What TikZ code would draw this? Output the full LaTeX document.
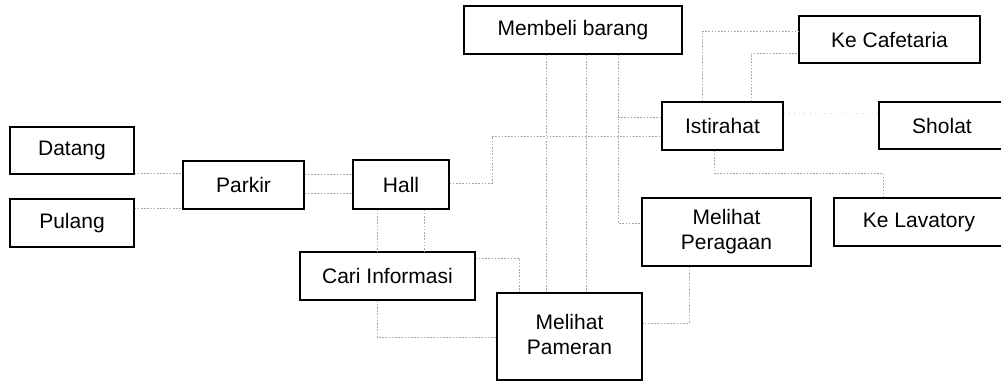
\documentclass[tikz,border=0pt]{standalone}
\usepackage{fontspec}
\setmainfont{Liberation Sans}
\begin{document}
\begin{tikzpicture}[x=1pt,y=-1pt,
  box/.style={draw=black,line width=1.3pt,inner sep=0pt,align=center,
    font=\fontsize{21}{25}\selectfont},
  conn/.style={draw=gray!70,line width=0.8pt,dash pattern=on 1.6pt off 1.6pt},
  faint/.style={draw=gray!25,line width=0.6pt,dash pattern=on 1.2pt off 4pt}]
\useasboundingbox (0,0) rectangle (1001,381);
\node[box,minimum width=124pt,minimum height=47pt] (datang) at (72,150.5) {Datang};
\node[box,minimum width=124pt,minimum height=48pt] (pulang) at (72,223) {Pulang};
\node[box,minimum width=121pt,minimum height=48pt] (parkir) at (243.5,185) {Parkir};
\node[box,minimum width=96pt,minimum height=49pt] (hall) at (401,184.5) {Hall};
\node[box,minimum width=218pt,minimum height=48pt] (membeli) at (573,30) {Membeli barang};
\node[box,minimum width=181pt,minimum height=47pt] (cafe) at (889.5,39.5) {Ke Cafetaria};
\node[box,minimum width=121pt,minimum height=48pt] (istirahat) at (722.5,126) {Istirahat};
\node[box,minimum width=132pt,minimum height=47pt] (sholat) at (945,125.5) {\hspace*{-6pt}Sholat};
\node[box,minimum width=169pt,minimum height=68pt] (peragaan) at (726.5,232) {Melihat\\Peragaan};
\node[box,minimum width=176pt,minimum height=48pt] (lavatory) at (922,222) {\hspace*{-6pt}Ke Lavatory};
\node[box,minimum width=175pt,minimum height=48pt] (cari) at (387.5,276) {Cari Informasi};
\node[box,minimum width=145pt,minimum height=87pt] (pameran) at (569.5,336.5)
  {\raisebox{6pt}{\begin{tabular}{@{}c@{}}Melihat\\Pameran\end{tabular}}};
% helper coordinates
\coordinate (y173) at (0,173);
\coordinate (y208) at (0,208);
\coordinate (y174) at (0,174);
\coordinate (y193) at (0,193);
\coordinate (y183) at (0,183);
\coordinate (y136) at (0,136);
\coordinate (y117) at (0,117);
\coordinate (y113) at (0,113);
\coordinate (y223) at (0,223);
\coordinate (y31) at (0,31);
\coordinate (y53) at (0,53);
\coordinate (y258) at (0,258);
\coordinate (y337) at (0,337);
\coordinate (y323) at (0,323);
\coordinate (x546) at (546,0);
\coordinate (x586) at (586,0);
\coordinate (x618) at (618,0);
\coordinate (x702) at (702,0);
\coordinate (x751) at (751,0);
\coordinate (x714) at (714,0);
\coordinate (x883) at (883,0);
\coordinate (x377) at (377,0);
\coordinate (x424) at (424,0);
\coordinate (x519) at (519,0);
\coordinate (x689) at (689,0);
\coordinate (hallbend) at (492,183);
\coordinate (hallup) at (492,136);
\coordinate (bend618) at (618,223);
\coordinate (c702) at (702,31);
\coordinate (c751) at (751,53);
\coordinate (l714) at (714,173);
\coordinate (l883) at (883,173);
\coordinate (c519) at (519,258);
\coordinate (c377) at (377,337);
\coordinate (p689) at (689,323);
% connectors
\draw[conn] (datang.east |- y173) -- (parkir.west |- y173);
\draw[conn] (pulang.east |- y208) -- (parkir.west |- y208);
\draw[conn] (parkir.east |- y174) -- (hall.west |- y174);
\draw[conn] (parkir.east |- y193) -- (hall.west |- y193);
\draw[conn] (hall.east |- y183) -- (hallbend) -- (hallup) -- (istirahat.west |- y136);
\draw[conn] (membeli.south -| x546) -- (pameran.north -| x546);
\draw[conn] (membeli.south -| x586) -- (pameran.north -| x586);
\draw[conn] (membeli.south -| x618) -- (bend618) -- (peragaan.west |- y223);
\draw[conn] (x618 |- y117) -- (istirahat.west |- y117);
\draw[conn] (istirahat.north -| x702) -- (c702) -- (cafe.west |- y31);
\draw[conn] (istirahat.north -| x751) -- (c751) -- (cafe.west |- y53);
\draw[faint] (istirahat.east |- y113) -- (sholat.west |- y113);
\draw[conn] (istirahat.south -| x714) -- (l714) -- (l883) -- (lavatory.north -| x883);
\draw[conn] (hall.south -| x377) -- (cari.north -| x377);
\draw[conn] (hall.south -| x424) -- (cari.north -| x424);
\draw[conn] (cari.east |- y258) -- (c519) -- (pameran.north -| x519);
\draw[conn] (cari.south -| x377) -- (c377) -- (pameran.west |- y337);
\draw[conn] (peragaan.south -| x689) -- (p689) -- (pameran.east |- y323);
\end{tikzpicture}
\end{document}
